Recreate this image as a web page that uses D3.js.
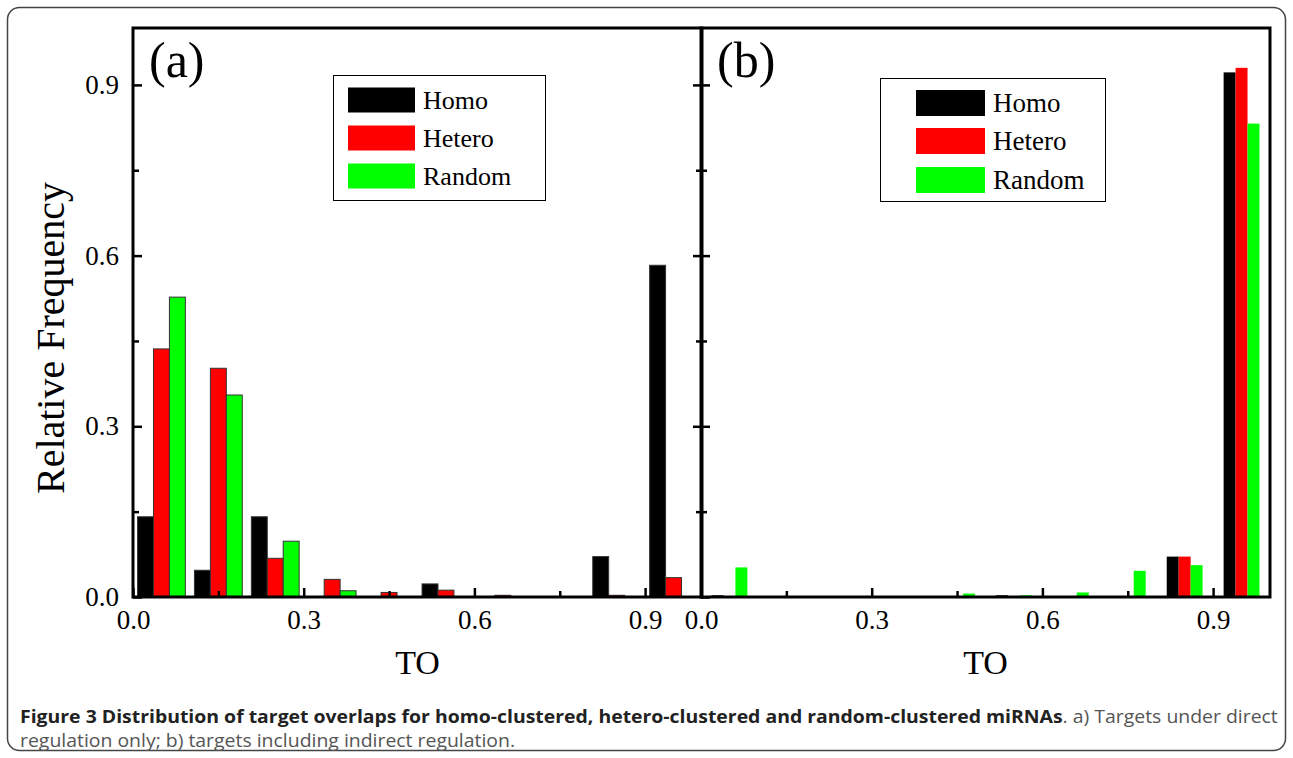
<!DOCTYPE html>
<html>
<head>
<meta charset="utf-8">
<script src="https://cdn.jsdelivr.net/npm/d3@7"></script>
<style>
  body { margin: 0; background: #fff; }
  svg { display: block; }
</style>
</head>
<body>
<div id="chart"></div>
<script>
// bin centres of TO histogram
var bins = [0.05, 0.15, 0.25, 0.35, 0.45, 0.55, 0.65, 0.75, 0.85, 0.95];
var seriesNames = ["Homo", "Hetero", "Random"];
var seriesColors = ["#000000", "#ff0000", "#00ff00"];

// (a) direct regulation only
var homoA   = [0.141, 0.047, 0.141, 0, 0, 0.023, 0, 0, 0.071, 0.583];
var heteroA = [0.436, 0.402, 0.068, 0.031, 0.008, 0.012, 0.003, 0, 0.003, 0.034];
var randomA = [0.527, 0.355, 0.098, 0.011, 0, 0, 0, 0, 0, 0];

// (b) including indirect regulation
var homoB   = [0.003, 0, 0, 0, 0, 0.003, 0, 0, 0.071, 0.922];
var heteroB = [0, 0, 0, 0, 0, 0, 0, 0, 0.071, 0.930];
var randomB = [0.052, 0, 0, 0, 0.006, 0.003, 0.008, 0.046, 0.056, 0.832];

var xTicks = [0, 0.3, 0.6, 0.9];
var minorTicks = [0.15, 0.45, 0.75];
var yTicks = [0, 0.3, 0.6, 0.9];

var W = 1293, H = 758;
var plotTop = 28, plotBottom = 597;

var svg = d3.select("#chart")
  .append("svg")
  .attr("width", W)
  .attr("height", H);

// outer rounded border
svg.append("rect")
  .attr("x", 7.5).attr("y", 7.5)
  .attr("width", W - 15).attr("height", H - 15)
  .attr("rx", 12)
  .attr("fill", "none")
  .attr("stroke", "#444")
  .attr("stroke-width", 1.5);

var y = d3.scaleLinear().domain([0, 1]).range([plotBottom, plotTop]);

var panels = [
  {id: "a", left: 133, right: 702, data: [homoA, heteroA, randomA], barW: 0.028, outline: true,
   tag: "(a)", legend: {x: 333, y: 75, w: 212, h: 125, sx: 15, sw: 67, sh: 25, tx: 90, rows: [25, 63, 101], fs: 26}},
  {id: "b", left: 701, right: 1270, data: [homoB, heteroB, randomB], barW: 0.021, outline: false,
   tag: "(b)", legend: {x: 880, y: 78, w: 225, h: 123, sx: 36, sw: 69, sh: 26, tx: 113, rows: [25, 63, 102], fs: 27}}
];

function tickStyle(a){
  a.select(".domain").remove();
  a.selectAll("line").attr("stroke", "#000").attr("stroke-width", 2.5);
  a.selectAll("text").attr("font-family", "Liberation Serif").attr("font-size", 27).attr("fill", "#000");
}

panels.forEach(function(p, pi){
  var x = d3.scaleLinear().domain([0, 1]).range([p.left, p.right]);
  var g = svg.append("g").attr("class", "panel-" + p.id);

  // bars, three per bin
  p.data.forEach(function(vals, si){
    g.selectAll(".bar-" + si)
      .data(bins.map(function(b, i){ return {bin: b, v: vals[i]}; }).filter(function(d){ return d.v > 0; }))
      .enter()
      .append("rect")
      .attr("class", "bar-" + si)
      .attr("x", function(d){ return x(d.bin + (si - 1.5) * p.barW); })
      .attr("width", x(p.barW) - x(0))
      .attr("y", function(d){ return y(d.v); })
      .attr("height", function(d){ return y(0) - y(d.v); })
      .attr("fill", seriesColors[si])
      .attr("stroke", p.outline ? "#333" : "none")
      .attr("stroke-width", 1);
  });

  // x axis, ticks point inward
  g.append("g")
    .attr("transform", "translate(0," + plotBottom + ")")
    .call(d3.axisBottom(x).tickValues(xTicks).tickSize(-9).tickPadding(13).tickFormat(d3.format(".1f")))
    .call(tickStyle);
  g.append("g")
    .attr("transform", "translate(0," + plotBottom + ")")
    .call(d3.axisBottom(x).tickValues(minorTicks).tickSize(-6).tickFormat(""))
    .call(tickStyle);

  // y ticks on left edge of each panel
  g.append("g")
    .attr("transform", "translate(" + p.left + ",0)")
    .call(d3.axisLeft(y).tickValues(yTicks).tickSize(-9).tickPadding(14).tickFormat(pi == 0 ? d3.format(".1f") : ""))
    .call(tickStyle);
  g.append("g")
    .attr("transform", "translate(" + p.left + ",0)")
    .call(d3.axisLeft(y).tickValues(minorTicks).tickSize(-6).tickFormat(""))
    .call(tickStyle);

  // panel a right edge gets inward ticks too
  if (pi == 0) {
    g.append("g")
      .attr("transform", "translate(" + p.right + ",0)")
      .call(d3.axisRight(y).tickValues(yTicks.slice(1)).tickSize(-9).tickFormat(""))
      .call(tickStyle);
    g.append("g")
      .attr("transform", "translate(" + p.right + ",0)")
      .call(d3.axisRight(y).tickValues(minorTicks).tickSize(-6).tickFormat(""))
      .call(tickStyle);
  }

  // frame
  g.append("rect")
    .attr("x", p.left).attr("y", plotTop)
    .attr("width", p.right - p.left).attr("height", plotBottom - plotTop)
    .attr("fill", "none")
    .attr("stroke", "#000")
    .attr("stroke-width", 3);

  // panel tag
  g.append("text")
    .attr("x", p.left + 16)
    .attr("y", 77)
    .attr("font-family", "Liberation Serif")
    .attr("font-size", 50)
    .text(p.tag);

  // axis title
  g.append("text")
    .attr("x", (p.left + p.right) / 2)
    .attr("y", 674)
    .attr("text-anchor", "middle")
    .attr("font-family", "Liberation Serif")
    .attr("font-size", 34)
    .text("TO");

  // legend
  var L = p.legend;
  var lg = g.append("g").attr("transform", "translate(" + L.x + "," + L.y + ")");
  lg.append("rect")
    .attr("x", 0.5).attr("y", 0.5)
    .attr("width", L.w).attr("height", L.h)
    .attr("fill", "#fff")
    .attr("stroke", "#000")
    .attr("stroke-width", 1);
  seriesNames.forEach(function(n, i){
    lg.append("rect")
      .attr("x", L.sx)
      .attr("y", L.rows[i] - L.sh / 2)
      .attr("width", L.sw)
      .attr("height", L.sh)
      .attr("fill", seriesColors[i]);
    lg.append("text")
      .attr("x", L.tx)
      .attr("y", L.rows[i])
      .attr("dy", "0.35em")
      .attr("font-family", "Liberation Serif")
      .attr("font-size", L.fs)
      .text(n);
  });
});

// y axis title
svg.append("text")
  .attr("transform", "translate(64,338) rotate(-90)")
  .attr("text-anchor", "middle")
  .attr("font-family", "Liberation Serif")
  .attr("font-size", 40)
  .text("Relative Frequency");

// caption, squeezed to the reference width
var cap = svg.append("g");
var line1 = cap.append("text")
  .attr("x", 0).attr("y", 723)
  .attr("font-family", "Open Sans")
  .attr("font-size", 18);
line1.append("tspan")
  .attr("font-weight", "bold")
  .attr("fill", "#222")
  .text("Figure 3 Distribution of target overlaps for homo-clustered, hetero-clustered and random-clustered miRNAs");
line1.append("tspan")
  .attr("fill", "#555")
  .text(". a) Targets under direct");
var line2 = cap.append("text")
  .attr("x", 0).attr("y", 747)
  .attr("font-family", "Open Sans")
  .attr("font-size", 18)
  .attr("fill", "#555")
  .text("regulation only; b) targets including indirect regulation.");

var len = line1.node().getComputedTextLength();
var sx = 1258 / len;
cap.attr("transform", "translate(20,0) scale(" + sx + ",1)");
</script>
</body>
</html>
